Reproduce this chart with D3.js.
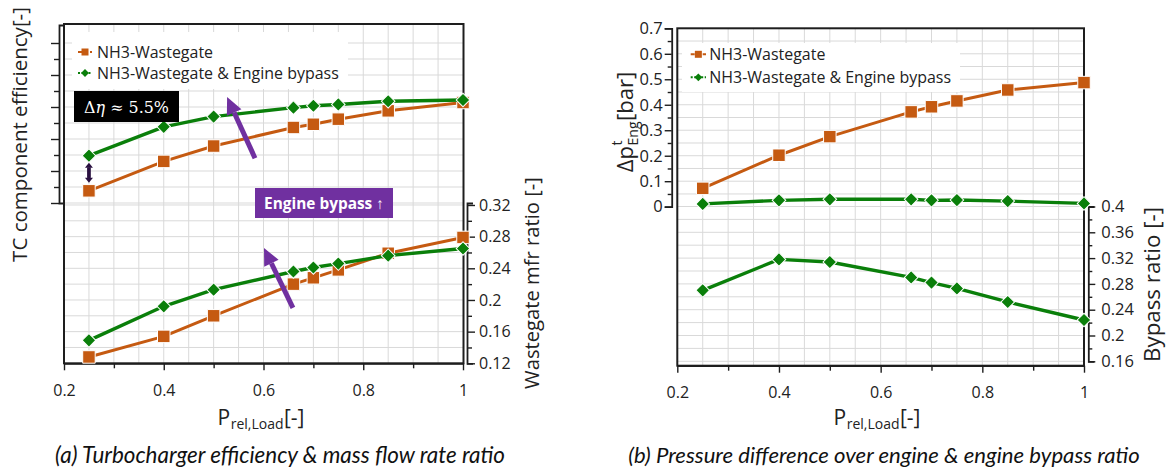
<!DOCTYPE html>
<html>
<head>
<meta charset="utf-8">
<script src="https://cdn.jsdelivr.net/npm/d3@7"></script>
<style>
  html, body { margin: 0; padding: 0; background: #fff; }
  svg { display: block; }
</style>
</head>
<body>
<svg id="chart" width="1170" height="470"></svg>
<script>
// ---------------- data ----------------
const loads          = [0.25, 0.4, 0.5, 0.66, 0.7, 0.75, 0.85, 1.0];
const effWastegate   = [0.519, 0.565, 0.589, 0.618, 0.623, 0.631, 0.644, 0.657];
const effBypass      = [0.574, 0.619, 0.635, 0.649, 0.652, 0.654, 0.659, 0.661];
const mfrWastegate   = [0.128, 0.154, 0.180, 0.220, 0.228, 0.238, 0.259, 0.279];
const mfrBypass      = [0.149, 0.192, 0.213, 0.236, 0.241, 0.246, 0.256, 0.265];
const dpWastegate    = [0.072, 0.202, 0.275, 0.372, 0.392, 0.415, 0.458, 0.487];
const dpBypass       = [0.011, 0.025, 0.029, 0.029, 0.025, 0.026, 0.022, 0.013];
const bypassRatio    = [0.270, 0.318, 0.314, 0.290, 0.282, 0.273, 0.252, 0.224];

const seriesNames    = ["NH3-Wastegate", "NH3-Wastegate & Engine bypass"];
const xTicks         = [0.2, 0.4, 0.6, 0.8, 1];
const effTicks       = [0.5, 0.55, 0.6, 0.65, 0.7, 0.75];
const mfrTicks       = [0.12, 0.16, 0.2, 0.24, 0.28, 0.32];
const dpTicks        = [0, 0.1, 0.2, 0.3, 0.4, 0.5, 0.6, 0.7];
const bypassTicks    = [0.16, 0.2, 0.24, 0.28, 0.32, 0.36, 0.4];
const deltaEtaLabel  = "5.5%";

// ---------------- style ----------------
const FONT = "'Open Sans', 'Noto Sans', sans-serif";
const gridColor = "#d9d9d9";
const axisColor = "#1e1e1e";
const orange = "#c55a11";
const green  = "#0a7f0a";
const purple = "#7030a0";

const svg = d3.select("#chart").style("font-family", FONT);
const fmt = d => String(+d.toFixed(2));
const rng = (a, b, s) => d3.range(0, Math.round((b - a) / s) + 1).map(i => +(a + i * s).toFixed(4));

function fitWidth(sel, target) {
  const w = sel.node().getComputedTextLength();
  const fs = parseFloat(sel.style("font-size"));
  sel.style("font-size", (fs * target / w) + "px");
  return fs * target / w;
}

function styleAxis(g, fontSize) {
  g.attr("color", axisColor);
  g.select(".domain").attr("stroke-width", 1.8);
  g.selectAll(".tick line").attr("stroke-width", 1.4);
  g.selectAll(".tick text").attr("fill", "#222").style("font-size", fontSize + "px").style("font-family", FONT);
}

function arrow(g, x1, y1, x2, y2, color, w, headL, headW) {
  const dx = x2 - x1, dy = y2 - y1, L = Math.hypot(dx, dy);
  const ux = dx / L, uy = dy / L;
  const bx = x2 - ux * headL, by = y2 - uy * headL;
  g.append("line").attr("x1", x1).attr("y1", y1).attr("x2", bx).attr("y2", by)
    .attr("stroke", color).attr("stroke-width", w);
  g.append("path")
    .attr("d", `M${x2},${y2}L${bx - uy * headW / 2},${by + ux * headW / 2}L${bx + uy * headW / 2},${by - ux * headW / 2}Z`)
    .attr("fill", color);
}

const squareSym  = s => d3.symbol(d3.symbolSquare, s * s)();
const diamondSym = s => d3.symbol(d3.symbolSquare, s * s)();

function drawSeries(g, x, y, values, color, kind, lw) {
  const pts = values.map((v, i) => [x(loads[i]), y(v)]);
  g.append("path").attr("d", d3.line()(pts)).attr("fill", "none")
    .attr("stroke", color).attr("stroke-width", lw).attr("stroke-linejoin", "round");
  g.selectAll(null).data(pts).join("path")
    .attr("d", kind === "square" ? squareSym(12.5) : diamondSym(9.6))
    .attr("transform", d => `translate(${d[0]},${d[1]})` + (kind === "square" ? "" : " rotate(45)"))
    .attr("fill", color).attr("stroke", "#fff").attr("stroke-width", 1);
}

function legend(g, x0, y0, w, h, rowY, lineX, textX) {
  g.append("rect").attr("x", x0).attr("y", y0).attr("width", w).attr("height", h).attr("fill", "#fff");
  const colors = [orange, green], kinds = ["square", "diamond"];
  let fs = null;
  seriesNames.forEach((name, i) => {
    const yy = rowY[i];
    g.append("line").attr("x1", lineX[0]).attr("x2", lineX[1]).attr("y1", yy).attr("y2", yy)
      .attr("stroke", colors[i]).attr("stroke-width", 2).attr("stroke-dasharray", i === 0 ? "4,2" : "2,1.5");
    g.append("path")
      .attr("d", kinds[i] === "square" ? squareSym(7) : diamondSym(5.5))
      .attr("transform", `translate(${(lineX[0] + lineX[1]) / 2},${yy})` + (kinds[i] === "square" ? "" : " rotate(45)"))
      .attr("fill", colors[i]);
    const t = g.append("text").attr("class", "leg").attr("x", textX).attr("y", yy).attr("dy", "0.36em")
      .attr("fill", "#222").style("font-size", "16px").text(name);
    if (i === 1) fs = fitWidth(t, 242);
  });
  g.selectAll("text.leg").style("font-size", fs + "px");
}

function rotatedTitle(g, cx, cy, txt, length, size) {
  const t = g.append("text").attr("transform", `translate(${cx},${cy}) rotate(-90)`)
    .attr("text-anchor", "middle").attr("dy", "0.36em").attr("fill", "#222")
    .style("font-size", size + "px").text(txt);
  fitWidth(t, length);
}

function loadLabel(g, cx, baseY) {
  const grp = g.append("g");
  const p = grp.append("text").attr("x", 0).attr("y", baseY).style("font-size", "21px").attr("fill", "#222").text("P");
  const w1 = p.node().getComputedTextLength();
  const s = grp.append("text").attr("x", w1 + 0.5).attr("y", baseY + 4).style("font-size", "14px").attr("fill", "#222").text("rel,Load");
  const w2 = s.node().getComputedTextLength();
  const b = grp.append("text").attr("x", w1 + w2 + 1).attr("y", baseY).style("font-size", "21px").attr("fill", "#222").text("[-]");
  const w3 = b.node().getComputedTextLength();
  grp.attr("transform", `translate(${cx - (w1 + w2 + w3 + 1) / 2},0)`);
}

function xAxis(g, x, yPos) {
  const minor = g.append("g").attr("transform", `translate(0,${yPos})`)
    .call(d3.axisBottom(x).tickValues(rng(0.3, 0.9, 0.2)).tickSize(5).tickFormat(""));
  minor.select(".domain").remove();
  styleAxis(minor, 16);
  const major = g.append("g").attr("transform", `translate(0,${yPos})`)
    .call(d3.axisBottom(x).tickValues(xTicks).tickSize(7).tickSizeOuter(0).tickPadding(14).tickFormat(fmt));
  styleAxis(major, 16);
}

// ================= panel (a) =================
const gA = svg.append("g");
const xA   = d3.scaleLinear([0.2, 1], [64, 463]);
const effY = d3.scaleLinear([0.5, 0.778125], [203, 25]);
const mfrY = d3.scaleLinear([0.12, 0.3225], [363.3, 203]);

// grid
const gridA = gA.append("g").attr("stroke", gridColor).attr("stroke-width", 1);
gridA.selectAll(null).data(rng(0.25, 0.95, 0.05)).join("line")
  .attr("x1", d => xA(d)).attr("x2", d => xA(d)).attr("y1", 24).attr("y2", 363.3);
gridA.selectAll(null).data(rng(0.5, 0.75, 0.025)).join("line")
  .attr("x1", 64).attr("x2", 463).attr("y1", d => effY(d)).attr("y2", d => effY(d));
gridA.selectAll(null).data(rng(0.14, 0.32, 0.02)).join("line")
  .attr("x1", 64).attr("x2", 463).attr("y1", d => mfrY(d)).attr("y2", d => mfrY(d));

// frame
gA.append("rect").attr("x", 64).attr("y", 24).attr("width", 399.5).attr("height", 339.3)
  .attr("fill", "none").attr("stroke", axisColor).attr("stroke-width", 2);

// axes
xAxis(gA, xA, 363.3);
{
  const minor = gA.append("g").attr("transform", "translate(59,0)")
    .call(d3.axisLeft(effY).tickValues(rng(0.525, 0.725, 0.05)).tickSize(5).tickFormat(""));
  minor.select(".domain").remove(); styleAxis(minor, 16);
  const major = gA.append("g").attr("transform", "translate(59,0)")
    .call(d3.axisLeft(effY).tickValues(effTicks).tickSize(8).tickSizeOuter(-5).tickFormat(""));
  styleAxis(major, 16);
}
{
  const minor = gA.append("g").attr("transform", "translate(467,0)")
    .call(d3.axisRight(mfrY).tickValues(rng(0.14, 0.30, 0.04)).tickSize(5).tickFormat(""));
  minor.select(".domain").remove(); styleAxis(minor, 16);
  const major = gA.append("g").attr("transform", "translate(467,0)")
    .call(d3.axisRight(mfrY).tickValues(mfrTicks).tickSize(8).tickSizeOuter(6).tickPadding(4).tickFormat(fmt));
  styleAxis(major, 16);
}

// series
drawSeries(gA, xA, effY, effWastegate, orange, "square", 3);
drawSeries(gA, xA, effY, effBypass, green, "diamond", 3.4);
drawSeries(gA, xA, mfrY, mfrWastegate, orange, "square", 3);
drawSeries(gA, xA, mfrY, mfrBypass, green, "diamond", 3.4);

legend(gA, 72, 32, 276, 57, [52, 73], [78, 92], 97);

// delta-eta annotation
gA.append("rect").attr("x", 74).attr("y", 91).attr("width", 105).attr("height", 31).attr("fill", "#000");
{
  const t = gA.append("text").attr("x", 126.5).attr("y", 107).attr("dy", "0.35em").attr("text-anchor", "middle")
    .attr("fill", "#fff").style("font-family", "'DejaVu Serif', 'Liberation Serif', serif").style("font-size", "18px");
  t.append("tspan").text("Δ");
  t.append("tspan").style("font-style", "italic").text("η");
  t.append("tspan").text(" ≈ " + deltaEtaLabel);
  fitWidth(t, 85);
}
{
  const gArr = gA.append("g");
  const x0 = xA(loads[0]);
  const yTop = effY(effBypass[0]) + 7, yBot = effY(effWastegate[0]) - 8;
  gArr.append("line").attr("x1", x0).attr("x2", x0).attr("y1", yTop + 5).attr("y2", yBot - 5)
    .attr("stroke", "#2a1040").attr("stroke-width", 3);
  arrow(gArr, x0, yBot - 5, x0, yTop, "#2a1040", 3, 5, 8);
  arrow(gArr, x0, yTop + 5, x0, yBot, "#2a1040", 3, 5, 8);
}
arrow(gA, xA(0.583), effY(0.570), xA(0.527), effY(0.6656), purple, 5, 17, 16);
arrow(gA, xA(0.659), mfrY(0.190), xA(0.601), mfrY(0.2657), purple, 5, 17, 16);

gA.append("rect").attr("x", 255).attr("y", 188).attr("width", 138).attr("height", 30).attr("fill", purple);
{
  const t = gA.append("text").attr("x", 324).attr("y", 203).attr("dy", "0.36em").attr("text-anchor", "middle")
    .attr("fill", "#fff").style("font-weight", "bold").style("font-size", "15px").text("Engine bypass ↑");
  fitWidth(t, 120);
}

// titles
rotatedTitle(gA, 20, 134.5, "TC component efficiency[-]", 255, 20);
rotatedTitle(gA, 532, 283, "Wastegate mfr ratio [-]", 212, 19);
loadLabel(gA, 261, 425);

// ================= panel (b) =================
const gB = svg.append("g");
const xB      = d3.scaleLinear([0.2, 1], [677.3, 1084]);
const dpY     = d3.scaleLinear([0, 0.7], [206.7, 28.3]);
const bypassY = d3.scaleLinear([0.16, 0.4], [361.3, 206.5]);

const gridB = gB.append("g").attr("stroke", gridColor).attr("stroke-width", 1);
gridB.selectAll(null).data(rng(0.25, 0.95, 0.05)).join("line")
  .attr("x1", d => xB(d)).attr("x2", d => xB(d)).attr("y1", 28.3).attr("y2", 365.7);
gridB.selectAll(null).data(rng(0.05, 0.65, 0.05)).join("line")
  .attr("x1", 677.3).attr("x2", 1084).attr("y1", d => dpY(d)).attr("y2", d => dpY(d));
gridB.selectAll(null).data(rng(0.16, 0.4, 0.02)).join("line")
  .attr("x1", 677.3).attr("x2", 1084).attr("y1", d => bypassY(d)).attr("y2", d => bypassY(d));

gB.append("rect").attr("x", 677.3).attr("y", 28.3).attr("width", 406.7).attr("height", 337.4)
  .attr("fill", "none").attr("stroke", axisColor).attr("stroke-width", 2);

xAxis(gB, xB, 365.7);
{
  const minor = gB.append("g").attr("transform", "translate(671.7,0)")
    .call(d3.axisLeft(dpY).tickValues(rng(0.05, 0.65, 0.1)).tickSize(4).tickFormat(""));
  minor.select(".domain").remove(); styleAxis(minor, 16);
  const major = gB.append("g").attr("transform", "translate(671.7,0)")
    .call(d3.axisLeft(dpY).tickValues(dpTicks).tickSize(7).tickSizeOuter(7).tickPadding(2).tickFormat(fmt));
  styleAxis(major, 16.5);
}
{
  const minor = gB.append("g").attr("transform", "translate(1088.3,0)")
    .call(d3.axisRight(bypassY).tickValues(rng(0.18, 0.38, 0.04)).tickSize(4).tickFormat(""));
  minor.select(".domain").remove(); styleAxis(minor, 16);
  const major = gB.append("g").attr("transform", "translate(1088.3,0)")
    .call(d3.axisRight(bypassY).tickValues(bypassTicks).tickSize(7).tickSizeOuter(6).tickPadding(6).tickFormat(fmt));
  styleAxis(major, 16.5);
}

drawSeries(gB, xB, dpY, dpWastegate, orange, "square", 3);
drawSeries(gB, xB, dpY, dpBypass, green, "diamond", 3.4);
drawSeries(gB, xB, bypassY, bypassRatio, green, "diamond", 3.4);

legend(gB, 682, 43, 278, 49, [54.3, 77.3], [690.7, 706], 709.3);

// Δp title with stacked super/subscript
{
  const grp = gB.append("g");
  const inner = grp.append("g");
  const m1 = inner.append("text").attr("x", 0).attr("y", 0).style("font-size", "22px").attr("fill", "#222").text("Δp");
  const w1 = m1.node().getComputedTextLength();
  const sup = inner.append("text").attr("x", w1 + 0.5).attr("y", -11).style("font-size", "14px").attr("fill", "#222").text("t");
  const sub = inner.append("text").attr("x", w1 + 0.5).attr("y", 5).style("font-size", "14px").attr("fill", "#222").text("Eng");
  const w2 = Math.max(sup.node().getComputedTextLength(), sub.node().getComputedTextLength());
  const m2 = inner.append("text").attr("x", w1 + w2 + 1).attr("y", 0).style("font-size", "22px").attr("fill", "#222").text("[bar]");
  const w3 = m2.node().getComputedTextLength();
  const total = w1 + w2 + w3 + 1;
  inner.attr("transform", `translate(${-total / 2},0)`);
  grp.attr("transform", `translate(633,122) rotate(-90)`);
}
rotatedTitle(gB, 1151.7, 284.5, "Bypass ratio [-]", 155, 20);
loadLabel(gB, 877, 425);

// ================= captions =================
const capFont = "'Lato', 'Noto Sans', sans-serif";
{
  const t = svg.append("text").attr("x", 280).attr("y", 463).attr("text-anchor", "middle")
    .style("font-family", capFont).style("font-style", "italic").style("font-size", "19px").attr("fill", "#111")
    .text("(a) Turbocharger efficiency & mass flow rate ratio");
  fitWidth(t, 450);
  const t2 = svg.append("text").attr("x", 884).attr("y", 463).attr("text-anchor", "middle")
    .style("font-family", capFont).style("font-style", "italic").style("font-size", "19px").attr("fill", "#111")
    .text("(b) Pressure difference over engine & engine bypass ratio");
  fitWidth(t2, 512);
}
</script>
</body>
</html>
